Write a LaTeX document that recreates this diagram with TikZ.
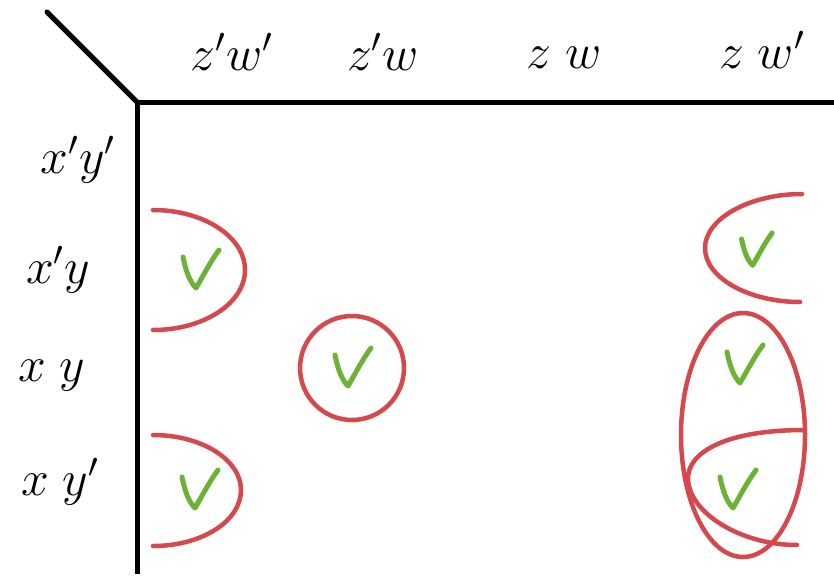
\documentclass[tikz,border=0pt]{standalone}
\usepackage{amsmath}
\definecolor{looprd}{RGB}{212,72,78}
\definecolor{tickgr}{RGB}{108,178,52}

\begin{document}
\begin{tikzpicture}[x=1pt, y=-1pt,
  gridline/.style={line width=5pt, black, line cap=round},
  loopline/.style={line width=4.5pt, looprd, line cap=round},
  head/.style={font=\huge, scale=2.4, inner sep=0pt},
  checkmark/.pic={\draw[line width=5pt, tickgr, line cap=round, line join=round]
    (-17,-13) .. controls (-14,2) and (-10,12) .. (-4,18) .. controls (2,8) and (10,-8) .. (19,-20);}]
  \useasboundingbox (0,0) rectangle (834,576);

  % Table frame
  \coordinate (diag) at (47,12);
  \coordinate (corner) at (137,102);
  \coordinate (right) at (834,102);
  \coordinate (bottom) at (137,574);
  \draw[gridline] (diag) -- (corner);
  \draw[gridline, line cap=butt] (corner) -- (right);
  \draw[gridline, line cap=butt] (corner) -- (bottom);

  % Column labels
  \node[head] (c1) at (232,52) {$z'w'$};
  \node[head] (c2) at (383,52) {$z'w$};
  \node[head] (c3) at (564,58) {$z\;w$};
  \node[head] (c4) at (762,50) {$z\;w'$};

  % Row labels
  \node[head] (r1) at (78,160) {$x'y'$};
  \node[head] (r2) at (58,270) {$x'y$};
  \node[head] (r3) at (52,376) {$x\;y$};
  \node[head] (r4) at (60,482) {$x\;y'$};

  % Ticks
  \pic (t21) at (200,270) {checkmark};
  \pic (t41) at (199,490) {checkmark};
  \pic (t32) at (352,368) {checkmark};
  \pic[scale=0.85] (t24) at (756,250) {checkmark};
  \pic (t34) at (744,365) {checkmark};
  \pic (t44) at (737,490) {checkmark};

  % Loops
  \draw[loopline] (153,210) .. controls (204,210) and (245,237) .. (245,270)
    .. controls (245,303) and (204,330) .. (153,330);
  \draw[loopline] (153,435) .. controls (202,435) and (241,460) .. (241,490)
    .. controls (241,521) and (202,546) .. (153,546);
  \draw[loopline] (352,368) circle[radius=52];
  \draw[loopline] (802,194) .. controls (749,194) and (705,219) .. (705,248)
    .. controls (705,278) and (749,302) .. (800,302);
  \draw[loopline] (743,435) ellipse[x radius=62, y radius=122];
  \draw[loopline] (805,430) .. controls (720,430) and (688,455) .. (688,478)
    .. controls (688,512) and (740,545) .. (797,545);
\end{tikzpicture}
\end{document}
